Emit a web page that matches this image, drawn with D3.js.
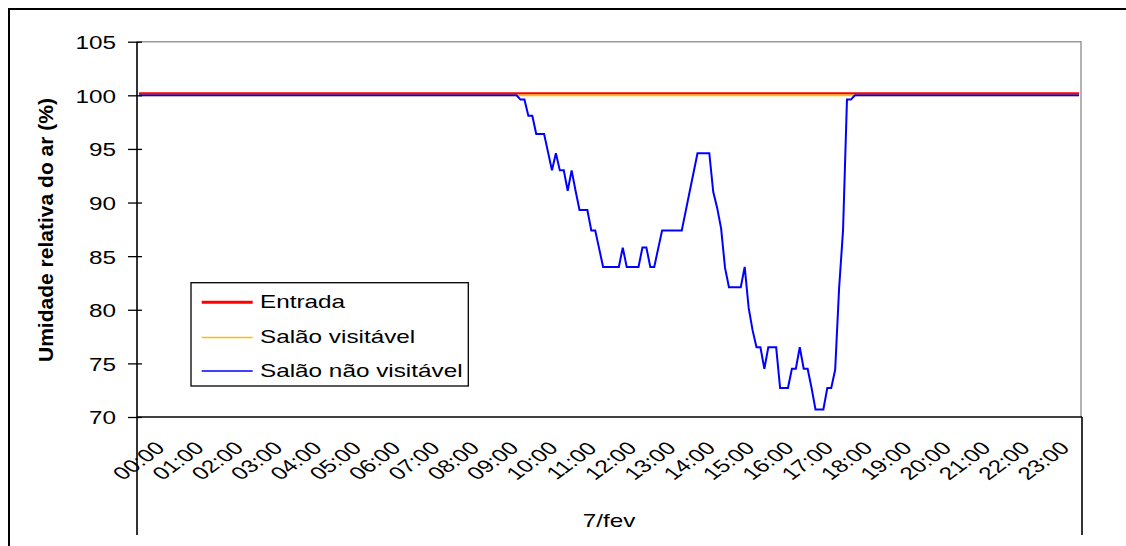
<!DOCTYPE html>
<html>
<head>
<meta charset="utf-8">
<script src="https://cdn.jsdelivr.net/npm/d3@7"></script>
<style>
  html, body { margin: 0; padding: 0; background: #fff; }
  svg { display: block; font-family: "Liberation Sans", Arial, sans-serif; }
</style>
</head>
<body>
<svg id="chart" width="1126" height="546"></svg>
<script>
// Relative humidity, 6-minute readings over one day (240 per series)
const hourLabels = ["00:00","01:00","02:00","03:00","04:00","05:00","06:00","07:00",
  "08:00","09:00","10:00","11:00","12:00","13:00","14:00","15:00","16:00","17:00",
  "18:00","19:00","20:00","21:00","22:00","23:00"];
const dayLabel = "7/fev";
const yTicks = [70, 75, 80, 85, 90, 95, 100, 105];
const seriesNames = ["Entrada", "Salão visitável", "Salão não visitável"];

// one row per hour, 10 readings each
const entrada = [
  100.2,100.2,100.2,100.2,100.2,100.2,100.2,100.2,100.2,100.2,
  100.2,100.2,100.2,100.2,100.2,100.2,100.2,100.2,100.2,100.2,
  100.2,100.2,100.2,100.2,100.2,100.2,100.2,100.2,100.2,100.2,
  100.2,100.2,100.2,100.2,100.2,100.2,100.2,100.2,100.2,100.2,
  100.2,100.2,100.2,100.2,100.2,100.2,100.2,100.2,100.2,100.2,
  100.2,100.2,100.2,100.2,100.2,100.2,100.2,100.2,100.2,100.2,
  100.2,100.2,100.2,100.2,100.2,100.2,100.2,100.2,100.2,100.2,
  100.2,100.2,100.2,100.2,100.2,100.2,100.2,100.2,100.2,100.2,
  100.2,100.2,100.2,100.2,100.2,100.2,100.2,100.2,100.2,100.2,
  100.2,100.2,100.2,100.2,100.2,100.2,100.2,100.2,100.2,100.2,
  100.2,100.2,100.2,100.2,100.2,100.2,100.2,100.2,100.2,100.2,
  100.2,100.2,100.2,100.2,100.2,100.2,100.2,100.2,100.2,100.2,
  100.2,100.2,100.2,100.2,100.2,100.2,100.2,100.2,100.2,100.2,
  100.2,100.2,100.2,100.2,100.2,100.2,100.2,100.2,100.2,100.2,
  100.2,100.2,100.2,100.2,100.2,100.2,100.2,100.2,100.2,100.2,
  100.2,100.2,100.2,100.2,100.2,100.2,100.2,100.2,100.2,100.2,
  100.2,100.2,100.2,100.2,100.2,100.2,100.2,100.2,100.2,100.2,
  100.2,100.2,100.2,100.2,100.2,100.2,100.2,100.2,100.2,100.2,
  100.2,100.2,100.2,100.2,100.2,100.2,100.2,100.2,100.2,100.2,
  100.2,100.2,100.2,100.2,100.2,100.2,100.2,100.2,100.2,100.2,
  100.2,100.2,100.2,100.2,100.2,100.2,100.2,100.2,100.2,100.2,
  100.2,100.2,100.2,100.2,100.2,100.2,100.2,100.2,100.2,100.2,
  100.2,100.2,100.2,100.2,100.2,100.2,100.2,100.2,100.2,100.2,
  100.2,100.2,100.2,100.2,100.2,100.2,100.2,100.2,100.2,100.2
];

const salaoVisitavel = [
  100,100,100,100,100,100,100,100,100,100,
  100,100,100,100,100,100,100,100,100,100,
  100,100,100,100,100,100,100,100,100,100,
  100,100,100,100,100,100,100,100,100,100,
  100,100,100,100,100,100,100,100,100,100,
  100,100,100,100,100,100,100,100,100,100,
  100,100,100,100,100,100,100,100,100,100,
  100,100,100,100,100,100,100,100,100,100,
  100,100,100,100,100,100,100,100,100,100,
  100,100,100,100,100,100,100,100,100,100,
  100,100,100,100,100,100,100,100,100,100,
  100,100,100,100,100,100,100,100,100,100,
  100,100,100,100,100,100,100,100,100,100,
  100,100,100,100,100,100,100,100,100,100,
  100,100,100,100,100,100,100,100,100,100,
  100,100,100,100,100,100,100,100,100,100,
  100,100,100,100,100,100,100,100,100,100,
  100,100,100,100,100,100,100,100,100,100,
  100,100,100,100,100,100,100,100,100,100,
  100,100,100,100,100,100,100,100,100,100,
  100,100,100,100,100,100,100,100,100,100,
  100,100,100,100,100,100,100,100,100,100,
  100,100,100,100,100,100,100,100,100,100,
  100,100,100,100,100,100,100,100,100,100
];

const salaoNaoVisitavel = [
  100,100,100,100,100,100,100,100,100,100,
  100,100,100,100,100,100,100,100,100,100,
  100,100,100,100,100,100,100,100,100,100,
  100,100,100,100,100,100,100,100,100,100,
  100,100,100,100,100,100,100,100,100,100,
  100,100,100,100,100,100,100,100,100,100,
  100,100,100,100,100,100,100,100,100,100,
  100,100,100,100,100,100,100,100,100,100,
  100,100,100,100,100,100,100,100,100,100,
  100,100,100,100,100,100,100,99.6,99.6,98.1,
  98.1,96.4,96.4,96.4,94.7,93.0,94.6,93.0,93.0,91.1,
  93.0,91.1,89.3,89.3,89.3,87.4,87.4,85.7,84.0,84.0,
  84.0,84.0,84.0,85.8,84.0,84.0,84.0,84.0,85.8,85.8,
  84.0,84.0,85.7,87.4,87.4,87.4,87.4,87.4,87.4,89.2,
  91.0,92.8,94.6,94.6,94.6,94.6,91.0,89.5,87.6,83.9,
  82.1,82.1,82.1,82.1,84.0,80.2,78.1,76.5,76.5,74.5,
  76.5,76.5,76.5,72.7,72.7,72.7,74.5,74.5,76.5,74.5,
  74.5,72.7,70.7,70.7,70.7,72.7,72.7,74.4,82.0,87.4,
  99.6,99.6,100,100,100,100,100,100,100,100,
  100,100,100,100,100,100,100,100,100,100,
  100,100,100,100,100,100,100,100,100,100,
  100,100,100,100,100,100,100,100,100,100,
  100,100,100,100,100,100,100,100,100,100,
  100,100,100,100,100,100,100,100,100,100
];

const colors = ["#ff0000", "#ffc000", "#0000ff"];
const TEXT_SX = 1.35;   // horizontal stretch of the lettering
const FONT = 18;

const svg = d3.select("#chart");

// frame around the chart
svg.append("rect")
  .attr("x", 9).attr("y", 9).attr("width", 1200).attr("height", 600)
  .attr("fill", "none").attr("stroke", "#000").attr("stroke-width", 2);

const plot = { left: 137, right: 1081, top: 41.7, bottom: 417 };

const idx = d3.range(salaoNaoVisitavel.length);
const x = d3.scaleBand().domain(idx).range([plot.left, plot.right]).padding(0);
const y = d3.scaleLinear().domain([70, 105]).range([plot.bottom, plot.top]);
const cx = i => x(i) + x.bandwidth() / 2;

// plot area border (top and right)
svg.append("path")
  .attr("d", `M${plot.left},${plot.top}H${plot.right}V${plot.bottom}`)
  .attr("fill", "none").attr("stroke", "#9a9a9a").attr("stroke-width", 1.5);

// series lines
const line = d3.line().x((d, i) => cx(i)).y(d => y(d));
const drawOrder = [
  { data: salaoVisitavel, color: colors[1], w: 2 },
  { data: salaoNaoVisitavel, color: colors[2], w: 2 },
  { data: entrada, color: colors[0], w: 2 }
];
drawOrder.forEach(s => {
  svg.append("path")
    .datum(s.data)
    .attr("d", line)
    .attr("fill", "none")
    .attr("stroke", s.color)
    .attr("stroke-width", s.w)
    .attr("stroke-linejoin", "miter");
});

// y axis
const yAxis = svg.append("g")
  .attr("transform", `translate(${plot.left},0)`)
  .call(d3.axisLeft(y).tickValues(yTicks).tickSizeOuter(0).tickSizeInner(9));
yAxis.select(".domain").remove();
yAxis.selectAll(".tick line").attr("x1", 5).attr("x2", -9)
  .attr("stroke", "#000").attr("stroke-width", 1.3);
yAxis.selectAll(".tick text")
  .attr("x", null).attr("dy", null)
  .attr("fill", "#000")
  .attr("font-size", FONT)
  .attr("font-family", "'Liberation Sans', Arial, sans-serif")
  .attr("text-anchor", "end")
  .attr("dominant-baseline", "central")
  .attr("transform", `translate(-21,1) scale(${TEXT_SX},1)`);

// y axis line, continuing down as the category divider
svg.append("line")
  .attr("x1", plot.left).attr("x2", plot.left)
  .attr("y1", plot.top).attr("y2", 535)
  .attr("stroke", "#000").attr("stroke-width", 1.6);

// x axis
const xAxis = svg.append("g")
  .attr("transform", `translate(0,${plot.bottom})`)
  .call(d3.axisBottom(x)
    .tickValues(idx.filter(i => i % 10 === 0))
    .tickFormat(i => hourLabels[i / 10])
    .tickSize(0).tickSizeOuter(0));
xAxis.select(".domain").remove();
xAxis.selectAll(".tick text")
  .attr("x", null).attr("y", null).attr("dy", null)
  .attr("fill", "#000")
  .attr("font-size", FONT)
  .attr("font-family", "'Liberation Sans', Arial, sans-serif")
  .attr("text-anchor", "middle")
  .attr("dominant-baseline", "central")
  .attr("transform", `translate(0,44) scale(${TEXT_SX},1) rotate(-45)`);

svg.append("line")
  .attr("x1", plot.left).attr("x2", plot.right + 1)
  .attr("y1", plot.bottom).attr("y2", plot.bottom)
  .attr("stroke", "#000").attr("stroke-width", 1.6);
svg.append("line")
  .attr("x1", plot.right + 1).attr("x2", plot.right + 1)
  .attr("y1", plot.bottom).attr("y2", 535)
  .attr("stroke", "#000").attr("stroke-width", 1.6);

// day label
svg.append("text")
  .attr("transform", `translate(${(plot.left + plot.right) / 2},521) scale(${TEXT_SX},1)`)
  .attr("text-anchor", "middle")
  .attr("dominant-baseline", "central")
  .attr("font-size", FONT)
  .text(dayLabel);

// y axis title
svg.append("text")
  .attr("transform", `translate(46,230) rotate(-90)`)
  .attr("text-anchor", "middle")
  .attr("dominant-baseline", "central")
  .attr("font-size", 19.5)
  .attr("font-weight", "bold")
  .attr("textLength", 264)
  .attr("lengthAdjust", "spacingAndGlyphs")
  .text("Umidade relativa do ar (%)");

// legend
const legend = svg.append("g");
legend.append("rect")
  .attr("x", 191).attr("y", 282.7).attr("width", 277.3).attr("height", 103.3)
  .attr("fill", "#fff").attr("stroke", "#000").attr("stroke-width", 1.3);
const legendY = [302.3, 337.5, 371];
const legendW = [3, 1.3, 1.3];
seriesNames.forEach((name, k) => {
  legend.append("line")
    .attr("x1", 201.7).attr("x2", 252.7)
    .attr("y1", legendY[k]).attr("y2", legendY[k])
    .attr("stroke", colors[k]).attr("stroke-width", legendW[k]);
  legend.append("text")
    .attr("transform", `translate(260,${legendY[k]}) scale(${TEXT_SX},1)`)
    .attr("dominant-baseline", "central")
    .attr("font-size", FONT)
    .text(name);
});
</script>
</body>
</html>
